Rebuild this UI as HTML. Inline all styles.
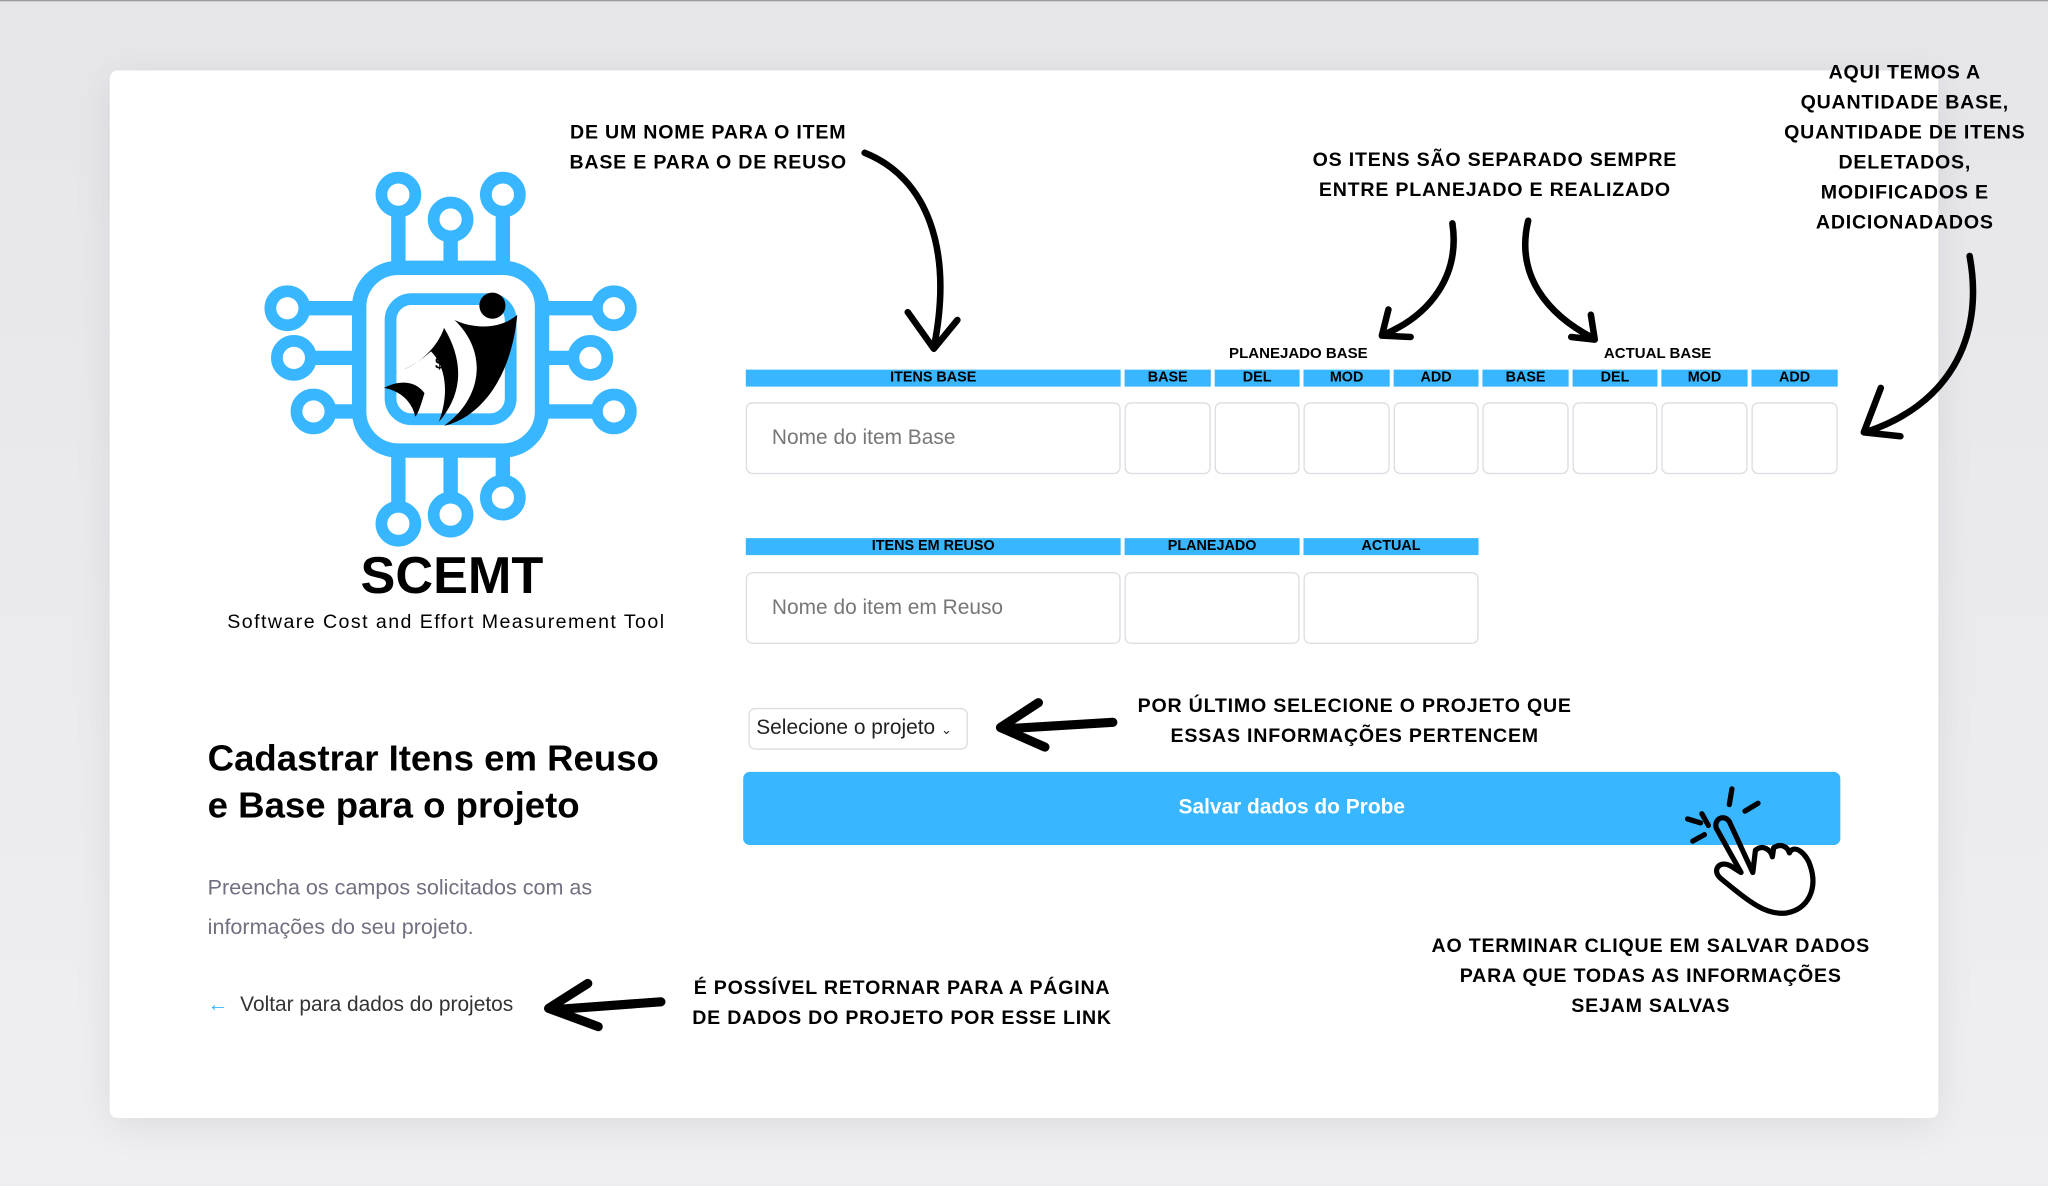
<!DOCTYPE html>
<html><head><meta charset="utf-8"><style>
html,body{margin:0;padding:0;width:2048px;height:1185px;overflow:hidden;background:#ebebef;font-family:"Liberation Sans",sans-serif}
#s{position:absolute;left:0;top:0;width:1568px;height:907px;transform:scale(1.30612);transform-origin:0 0;background:linear-gradient(#e6e6ea,#efeff2);border-top:1px solid #9a9a9a;box-sizing:border-box}
.card{position:absolute;left:84px;top:53px;width:1400px;height:802px;background:#fff;border-radius:6px;box-shadow:0 6px 30px rgba(0,0,0,.08)}
.a{position:absolute;font-weight:bold;font-size:15px;line-height:23px;text-align:center;color:#000;letter-spacing:.6px;white-space:nowrap}
.h{position:absolute;background:#38b6ff;height:13px;font-size:11px;font-weight:bold;line-height:13px;text-align:center;color:#000}
.i{position:absolute;border:1px solid #dcdce2;border-radius:5px;background:#fff;box-sizing:border-box}
.t{position:absolute;font-size:11.5px;font-weight:bold;white-space:nowrap}
.ph{color:#777;font-size:16px;padding:18px 0 0 19px}
svg{position:absolute;left:0;top:0}
</style></head><body>
<div id="s">
<div class="card"></div>

<svg width="1568" height="907">
 <g fill="none" stroke="#38b6ff" stroke-width="11">
  <rect x="275" y="204" width="140" height="140" rx="30"/>
  <rect x="299" y="228" width="92" height="92" rx="16" stroke-width="9"/>
  <path d="M305 162V204M345 181V204M385 162V204M305 344V386M345 344V379M385 344V366M234 235H275M239 273H275M254 314H275M415 235H456M415 273H438M415 314H456"/>
  <g stroke-width="9"><circle cx="305" cy="148" r="13"/><circle cx="345" cy="167" r="13"/><circle cx="385" cy="148" r="13"/>
  <circle cx="220" cy="235" r="13"/><circle cx="225" cy="273" r="13"/><circle cx="240" cy="314" r="13"/>
  <circle cx="470" cy="235" r="13"/><circle cx="452" cy="273" r="13"/><circle cx="470" cy="314" r="13"/>
  <circle cx="305" cy="400" r="13"/><circle cx="345" cy="393" r="13"/><circle cx="385" cy="380" r="13"/></g>
 </g>
 <circle cx="377" cy="233" r="10" fill="#000"/>
 <path d="M348 244C365 252 385 250 396 240C392 285 370 318 340 325C368 305 375 270 348 244Z" fill="#000"/>
 <path d="M300 285C320 280 335 265 340 250C355 275 355 300 336 322C345 298 340 278 330 268C322 275 312 282 300 285Z" fill="#000"/>
 <path d="M294 296C305 290 318 290 325 300C322 310 320 316 318 318C315 305 305 298 294 296Z" fill="#000"/>
 <text x="333" y="281" font-size="12" font-weight="bold" fill="#000" font-family="Liberation Sans">$</text>
</svg>
<div class="t" style="left:276px;top:418px;font-size:40px;font-weight:bold">SCEMT</div>
<div class="t" style="left:174px;top:467px;font-size:15px;font-weight:normal;letter-spacing:1.1px">Software Cost and Effort Measurement Tool</div>

<div class="t" style="left:159px;top:562px;font-size:28px;line-height:36px">Cadastrar Itens em Reuso<br>e Base para o projeto</div>
<div class="t" style="left:159px;top:664px;font-size:16.5px;font-weight:normal;line-height:30px;color:#707080">Preencha os campos solicitados com as<br>informações do seu projeto.</div>
<div class="t" style="left:159px;top:760px;font-size:16px;font-weight:normal;color:#333"><span style="color:#38b6ff">←</span>&nbsp; Voltar para dados do projetos</div>

<div class="t" style="left:941px;top:264px">PLANEJADO BASE</div>
<div class="t" style="left:1228px;top:264px">ACTUAL BASE</div>
<div class="h" style="left:571px;top:282px;width:287px">ITENS BASE</div>
<div class="h" style="left:861px;top:282px;width:66px">BASE</div>
<div class="h" style="left:930px;top:282px;width:65px">DEL</div>
<div class="h" style="left:998px;top:282px;width:66px">MOD</div>
<div class="h" style="left:1067px;top:282px;width:65px">ADD</div>
<div class="h" style="left:1135px;top:282px;width:66px">BASE</div>
<div class="h" style="left:1204px;top:282px;width:65px">DEL</div>
<div class="h" style="left:1272px;top:282px;width:66px">MOD</div>
<div class="h" style="left:1341px;top:282px;width:66px">ADD</div>
<div class="i ph" style="left:571px;top:307px;width:287px;height:55px">Nome do item Base</div>
<div class="i" style="left:861px;top:307px;width:66px;height:55px"></div>
<div class="i" style="left:930px;top:307px;width:65px;height:55px"></div>
<div class="i" style="left:998px;top:307px;width:66px;height:55px"></div>
<div class="i" style="left:1067px;top:307px;width:65px;height:55px"></div>
<div class="i" style="left:1135px;top:307px;width:66px;height:55px"></div>
<div class="i" style="left:1204px;top:307px;width:65px;height:55px"></div>
<div class="i" style="left:1272px;top:307px;width:66px;height:55px"></div>
<div class="i" style="left:1341px;top:307px;width:66px;height:55px"></div>

<div class="h" style="left:571px;top:411px;width:287px">ITENS EM REUSO</div>
<div class="h" style="left:861px;top:411px;width:134px">PLANEJADO</div>
<div class="h" style="left:998px;top:411px;width:134px">ACTUAL</div>
<div class="i ph" style="left:571px;top:437px;width:287px;height:55px">Nome do item em Reuso</div>
<div class="i" style="left:861px;top:437px;width:134px;height:55px"></div>
<div class="i" style="left:998px;top:437px;width:134px;height:55px"></div>

<div class="i" style="left:573px;top:541px;width:168px;height:32px;font-size:16px;color:#222;padding:6px 0 0 5px">Selecione o projeto <span style="font-size:10px">⌄</span></div>
<div style="position:absolute;left:569px;top:590px;width:840px;height:56px;background:#38b6ff;border-radius:5px;color:#fff;font-weight:bold;font-size:16px;line-height:56px;text-align:center">Salvar dados do Probe</div>

<div class="a" style="left:436px;top:89px">DE UM NOME PARA O ITEM<br>BASE E PARA O DE REUSO</div>
<div class="a" style="left:1005px;top:110px">OS ITENS SÃO SEPARADO SEMPRE<br>ENTRE PLANEJADO E REALIZADO</div>
<div class="a" style="left:1366px;top:43px">AQUI TEMOS A<br>QUANTIDADE BASE,<br>QUANTIDADE DE ITENS<br>DELETADOS,<br>MODIFICADOS E<br>ADICIONADADOS</div>
<div class="a" style="left:871px;top:528px">POR ÚLTIMO SELECIONE O PROJETO QUE<br>ESSAS INFORMAÇÕES PERTENCEM</div>
<div class="a" style="left:1096px;top:712px">AO TERMINAR CLIQUE EM SALVAR DADOS<br>PARA QUE TODAS AS INFORMAÇÕES<br>SEJAM SALVAS</div>
<div class="a" style="left:530px;top:744px">É POSSÍVEL RETORNAR PARA A PÁGINA<br>DE DADOS DO PROJETO POR ESSE LINK</div>

<svg width="1568" height="907">
 <g fill="none" stroke="#000" stroke-width="5" stroke-linecap="round" stroke-linejoin="round">
  <path d="M662 116C710 135 730 190 715 265M695 238L715 266L733 244"/>
  <path d="M1112 170C1118 210 1095 240 1060 255M1063 236L1058 256L1080 257"/>
  <path d="M1170 168C1160 210 1185 240 1220 258M1203 257L1221 259L1218 240"/>
  <path d="M1508 195C1520 260 1490 310 1428 330M1440 296L1427 330L1455 333"/>
  <path d="M852 552L770 557M795 537L766 556L800 571" stroke-width="7"/>
  <path d="M506 766L424 772M450 752L420 771L458 785" stroke-width="7"/>
 </g>
 <g fill="none" stroke="#000" stroke-width="4" stroke-linecap="round" stroke-linejoin="round">
  <path d="M1303 622L1308 631M1326 603L1324 615M1346 614L1336 620M1292 626L1302 629M1296 643L1305 638"/>
  <path d="M1314 633C1312 626 1320 622 1324 628L1342 667L1344 650C1350 645 1356 650 1357 655L1358 648C1364 644 1369 648 1370 652C1374 644 1384 654 1386 662C1392 680 1384 695 1368 698C1352 700 1340 690 1318 672C1310 666 1316 657 1325 662L1333 667Z"/>
 </g>
</svg>
</div>
</body></html>
